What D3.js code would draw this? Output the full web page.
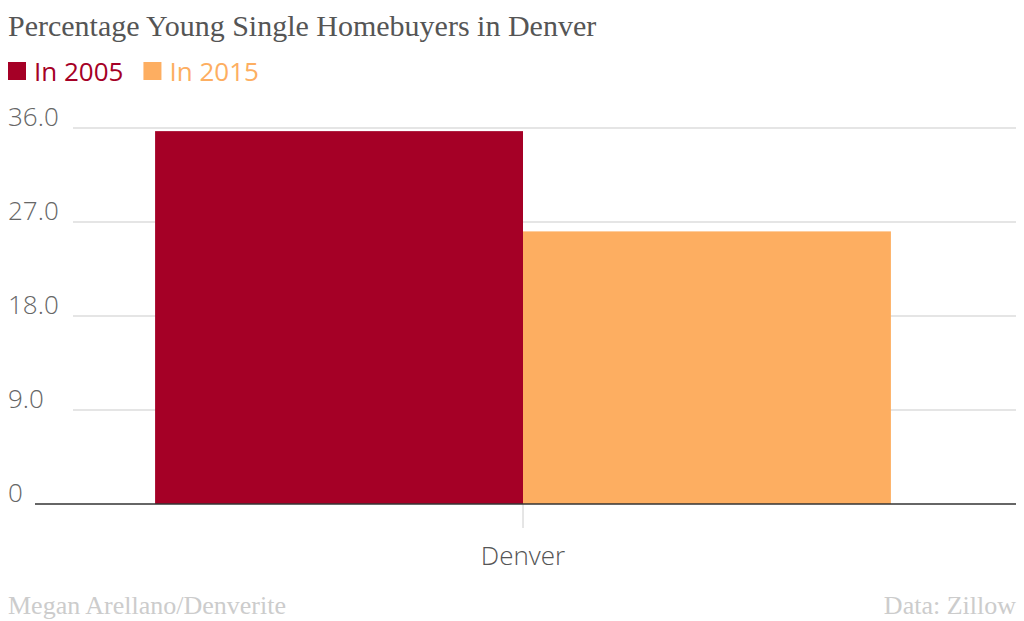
<!DOCTYPE html><html><head><meta charset="utf-8">
<script src="https://cdn.jsdelivr.net/npm/d3@7"></script>
<style>body{margin:0;background:#fff}</style></head><body>
<svg id="c" width="1024" height="621"></svg>
<script>
const categories=["Denver"];
const seriesNames=["In 2005","In 2015"];
const values2005=[35.7];
const values2015=[26.1];
const yTicks=[0,9,18,27,36];
const colors=["#a50026","#fdae61"];
const svg=d3.select("#c");
const y=d3.scaleLinear().domain([0,36]).range([504,128]);
const x=d3.scaleBand().domain(categories).range([30,1016]).paddingInner(0).paddingOuter(0.17);
const xs=d3.scaleBand().domain(seriesNames).range([0,x.bandwidth()]);
svg.append("text").attr("x",8).attr("y",36).attr("font-family","Liberation Serif").attr("font-size",30).attr("fill","#555").text("Percentage Young Single Homebuyers in Denver");
let lx=8;
seriesNames.forEach((s,i)=>{
  svg.append("rect").attr("x",lx).attr("y",62).attr("width",18).attr("height",18).attr("fill",colors[i]);
  const t=svg.append("text").attr("x",lx+26).attr("y",81).attr("font-family","Open Sans").attr("font-size",26).attr("fill",colors[i]).text(s);
  lx+=t.node().getComputedTextLength()+26+20;
});
yTicks.forEach(t=>{
  if(t>0) svg.append("line").attr("x1",73).attr("x2",1016).attr("y1",y(t)).attr("y2",y(t)).attr("stroke","#ddd").attr("stroke-width",1.5);
  svg.append("text").attr("x",8).attr("y",y(t)-2).attr("font-family","Open Sans").attr("font-weight",300).attr("font-size",26).attr("fill","#666").text(t===0?"0":t.toFixed(1));
});
const data=[values2005,values2015];
categories.forEach((c,ci)=>{
  seriesNames.forEach((s,si)=>{
    svg.append("rect").attr("x",x(c)+xs(s)).attr("width",xs.bandwidth()).attr("y",y(data[si][ci])).attr("height",y(0)-y(data[si][ci])).attr("fill",colors[si]);
  });
  const cx=x(c)+x.bandwidth()/2;
  svg.append("line").attr("x1",cx).attr("x2",cx).attr("y1",504).attr("y2",528).attr("stroke","#ccc");
  svg.append("text").attr("x",cx).attr("y",565).attr("text-anchor","middle").attr("font-family","Open Sans").attr("font-weight",300).attr("font-size",26).attr("fill","#555").text(c);
});
svg.append("line").attr("x1",35).attr("x2",1016).attr("y1",504).attr("y2",504).attr("stroke","#333").attr("stroke-width",1.5);
svg.append("text").attr("x",8).attr("y",614).attr("font-family","Liberation Serif").attr("font-size",26).attr("fill","#ccc").text("Megan Arellano/Denverite");
svg.append("text").attr("x",1016).attr("y",614).attr("text-anchor","end").attr("font-family","Liberation Serif").attr("font-size",26).attr("fill","#ccc").text("Data: Zillow");
</script></body></html>
